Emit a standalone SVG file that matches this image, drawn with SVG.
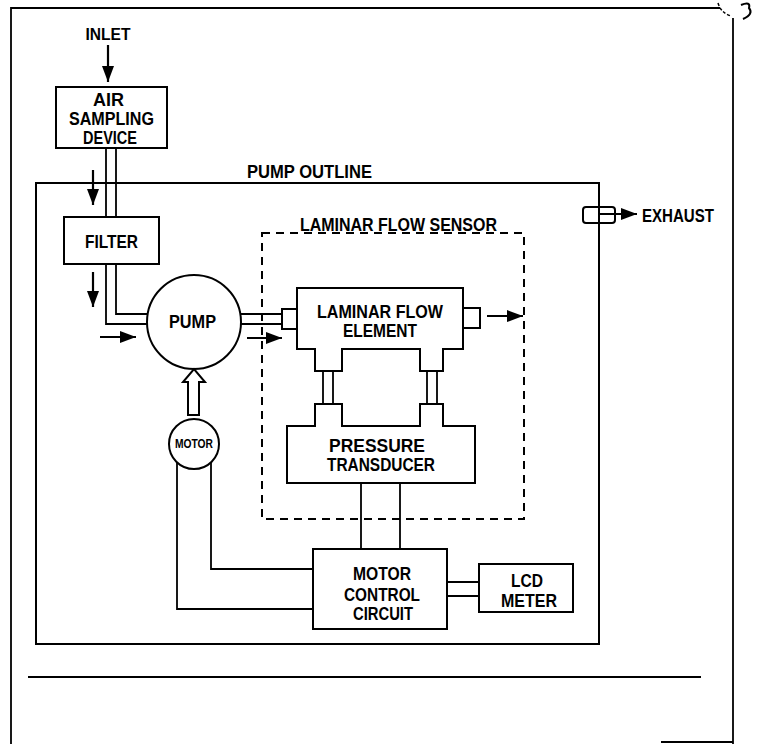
<svg xmlns="http://www.w3.org/2000/svg" width="768" height="744" viewBox="0 0 768 744">
<defs>
<marker id="ah" markerWidth="16" markerHeight="12" refX="16" refY="6" orient="auto" markerUnits="userSpaceOnUse"><path d="M0,0 L16,6 L0,12 z" fill="#000"/></marker>
</defs>
<style>
.t{font-family:"Liberation Sans Narrow","Liberation Sans",Arial,sans-serif;font-weight:bold;font-size:18px;fill:#000;text-anchor:middle}
.box{fill:none;stroke:#000;stroke-width:2}
.ln{fill:none;stroke:#000;stroke-width:1.8}
.ar{fill:none;stroke:#000;stroke-width:2.2;marker-end:url(#ah)}
.dash{fill:none;stroke:#000;stroke-width:2;stroke-dasharray:8 6}
</style>
<rect width="768" height="744" fill="#fff"/>
<g id="frame">
<path class="ln" d="M11,744 V8 H720"/>
<path class="ln" d="M733,744 V18"/>
<path class="ln" d="M661,742 H733"/>
<path class="ln" stroke-width="1.4" d="M28,677 H701"/>
<path fill="none" stroke="#000" stroke-width="1.5" stroke-dasharray="3 2" d="M718,3 Q721,13 731,16"/>
<path fill="none" stroke="#000" stroke-width="2" d="M741,5 Q751,1 749,8 Q754,14 743,19"/>
</g>
<g id="pump-outline">
<rect class="box" x="36" y="183" width="563" height="461"/>
<text class="t" x="309.5" y="178" textLength="125" lengthAdjust="spacingAndGlyphs">PUMP OUTLINE</text>
</g>
<g id="laminar-flow-sensor">
<rect class="dash" x="262" y="233" width="262" height="286"/>
<text class="t" x="398.5" y="231" textLength="197" lengthAdjust="spacingAndGlyphs">LAMINAR FLOW SENSOR</text>
</g>
<g id="inlet">
<text class="t" style="font-size:17px" x="108" y="40" textLength="45" lengthAdjust="spacingAndGlyphs">INLET</text>
</g>
<g id="air-sampling-device">
<rect class="box" x="56" y="87" width="111" height="61"/>
<text class="t" x="108.5" y="106" textLength="31" lengthAdjust="spacingAndGlyphs">AIR</text>
<text class="t" x="111.5" y="125" textLength="85" lengthAdjust="spacingAndGlyphs">SAMPLING</text>
<text class="t" x="110" y="144" textLength="54" lengthAdjust="spacingAndGlyphs">DEVICE</text>
</g>
<g id="filter">
<rect class="box" x="64" y="217" width="95" height="47"/>
<text class="t" x="111.5" y="248" textLength="53" lengthAdjust="spacingAndGlyphs">FILTER</text>
</g>
<g id="pump">
<circle class="box" cx="194" cy="322" r="47"/>
<text class="t" x="192.5" y="328" textLength="47" lengthAdjust="spacingAndGlyphs">PUMP</text>
</g>
<g id="motor">
<circle class="box" cx="194" cy="444" r="25"/>
<text class="t" style="font-size:12px" x="194" y="448" textLength="38" lengthAdjust="spacingAndGlyphs">MOTOR</text>
</g>
<g id="laminar-flow-element">
<path class="box" d="M297,288 H463 V349 H443 V371 H420 V349 H342 V371 H315 V349 H297 Z"/>
<rect class="box" x="282" y="309" width="15" height="20"/>
<rect class="box" x="463" y="308" width="17" height="20"/>
<text class="t" x="380" y="318" textLength="126" lengthAdjust="spacingAndGlyphs">LAMINAR FLOW</text>
<text class="t" x="380" y="337" textLength="74" lengthAdjust="spacingAndGlyphs">ELEMENT</text>
</g>
<g id="pressure-transducer">
<path class="box" d="M287,426 H315 V404 H342 V426 H420 V404 H443 V426 H475 V483 H287 Z"/>
<text class="t" x="377" y="452" textLength="96" lengthAdjust="spacingAndGlyphs">PRESSURE</text>
<text class="t" x="381" y="471" textLength="108" lengthAdjust="spacingAndGlyphs">TRANSDUCER</text>
</g>
<g id="motor-control-circuit">
<rect class="box" x="313" y="549" width="134" height="80"/>
<text class="t" x="382" y="580" textLength="58" lengthAdjust="spacingAndGlyphs">MOTOR</text>
<text class="t" x="382" y="601" textLength="76" lengthAdjust="spacingAndGlyphs">CONTROL</text>
<text class="t" x="383" y="620" textLength="60" lengthAdjust="spacingAndGlyphs">CIRCUIT</text>
</g>
<g id="lcd-meter">
<rect class="box" x="479" y="564" width="94" height="48"/>
<text class="t" x="527" y="587" textLength="32" lengthAdjust="spacingAndGlyphs">LCD</text>
<text class="t" x="529" y="607" textLength="56" lengthAdjust="spacingAndGlyphs">METER</text>
</g>
<g id="exhaust">
<rect class="box" x="583" y="207" width="32" height="16" rx="3"/>
<text class="t" x="678" y="222" textLength="72" lengthAdjust="spacingAndGlyphs">EXHAUST</text>
</g>
<g id="connectors">
<path class="ar" d="M108,45 V82"/>
<path class="ln" d="M106,148 V217 M116,148 V217"/>
<path class="ar" d="M93,170 V205"/>
<path class="ar" d="M93,272 V307"/>
<path class="ln" d="M106,264 V324 H147 M116,264 V314 H148"/>
<path class="ar" d="M100,337 H136"/>
<path class="ln" d="M241,314 H282 M241,324 H282"/>
<path class="ar" d="M247,338 H282"/>
<path class="ar" d="M487,316 H523"/>
<path class="ln" d="M323,371 V404 M333,371 V404 M427,371 V404 M437,371 V404"/>
<path class="ln" d="M361,483 V549 M400,483 V549"/>
<path class="ln" d="M177,462 V609 H313 M211,462 V569 H313"/>
<path class="ln" d="M447,582 H479 M447,596 H479"/>
<polygon class="box" points="188,415 188,382 183,382 194,369 205,382 199,382 199,415"/>
<path class="ar" d="M600,214 H637"/>
</g>
</svg>
